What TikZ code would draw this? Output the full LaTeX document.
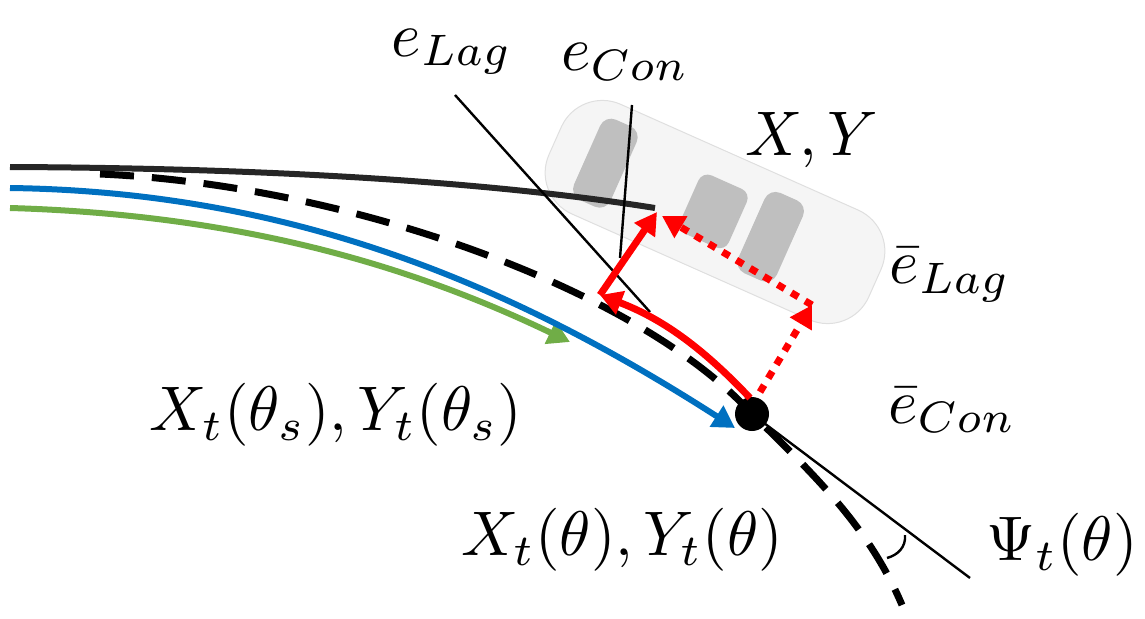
\documentclass[tikz,border=0pt]{standalone}
\usetikzlibrary{arrows.meta}
\definecolor{grn}{RGB}{112,173,71}
\definecolor{blu}{RGB}{0,112,192}
\newcommand{\lblmath}[1]{\scalebox{6.3}{$#1$}}
\begin{document}
\begin{tikzpicture}[x=1pt,y=-1pt,
  lbl/.style={inner sep=0pt},
  thinl/.style={line width=2.4pt},
  redarr/.style={red,line width=7pt,-{Triangle[length=22pt,width=24pt]}},
  reddot/.style={red,line width=7pt,dash pattern=on 8pt off 8pt,-{Triangle[length=22pt,width=24pt]}}]
\useasboundingbox (0,0) rectangle (1145,618);
% car
\begin{scope}[shift={(715,212)},rotate=-24]
 \fill[gray!8,draw=gray!25,line width=1pt,rounded corners=45pt] (-175,-60) rectangle (175,60);
 \fill[gray!50,rounded corners=12pt] (-140,-44) rectangle (-100,44);
 \fill[gray!50,rounded corners=10pt] (-28,-32) rectangle (25,32);
 \fill[gray!50,rounded corners=12pt] (40,-44) rectangle (82,44);
\end{scope}
% trajectories
\draw[line width=6pt,black!85] (10,167) .. controls (250,168) and (480,180) .. coordinate(cend) (655,208);
\draw[line width=7pt,dash pattern=on 34pt off 18pt] (100,174) .. controls (350,185) and (640,290) .. (752,414) .. controls (820,480) and (870,530) .. (902,605);
\draw[line width=6pt,grn,-{Triangle[length=22pt,width=24pt]}] (10,208) .. controls (250,215) and (420,270) .. (570,342);
\draw[line width=6pt,blu,-{Triangle[length=22pt,width=24pt]}] (10,188) .. controls (300,192) and (520,290) .. (735,428);
% thin lines
\coordinate (lagtop) at (455,95); \coordinate (lagbot) at (650,312);
\draw[thinl] (lagtop) -- (lagbot);
\coordinate (contop) at (632,105); \coordinate (conbot) at (620,258);
\draw[thinl] (contop) -- (conbot);
\node[circle,fill=black,minimum size=34pt,inner sep=0pt] (dot) at (752,414) {};
\coordinate (tanend) at (970,578);
\draw[thinl] (dot.center) -- (tanend);
\draw[line width=2.4pt] (905,535) .. controls (906,547) and (898,555) .. (887,558);
% red errors
\coordinate (rc) at (600,295);
\coordinate (rt) at (657,212);
\coordinate (rr) at (812,305);
\draw[redarr] (750,398) .. controls (700,345) and (660,318) .. (rc);
\draw[redarr] (rc) -- (rt);
\draw[reddot] (760,392) -- (rr);
\draw[reddot] (rr) -- (662,216);
% labels
\node[lbl] (l1) at (452,52) {\lblmath{e_{Lag}}};
\node[lbl] (l2) at (625,62) {\lblmath{e_{Con}}};
\node[lbl] (l3) at (812,140) {\lblmath{X,Y}};
\node[lbl] (l4) at (950,275) {\lblmath{\bar{e}_{Lag}}};
\node[lbl] (l5) at (952,410) {\lblmath{\bar{e}_{Con}}};
\node[lbl] (l6) at (336,415) {\lblmath{X_t(\theta_s),Y_t(\theta_s)}};
\node[lbl] (l7) at (622,540) {\lblmath{X_t(\theta),Y_t(\theta)}};
\node[lbl] (l8) at (1062,545) {\lblmath{\Psi_t(\theta)}};
\end{tikzpicture}
\end{document}
